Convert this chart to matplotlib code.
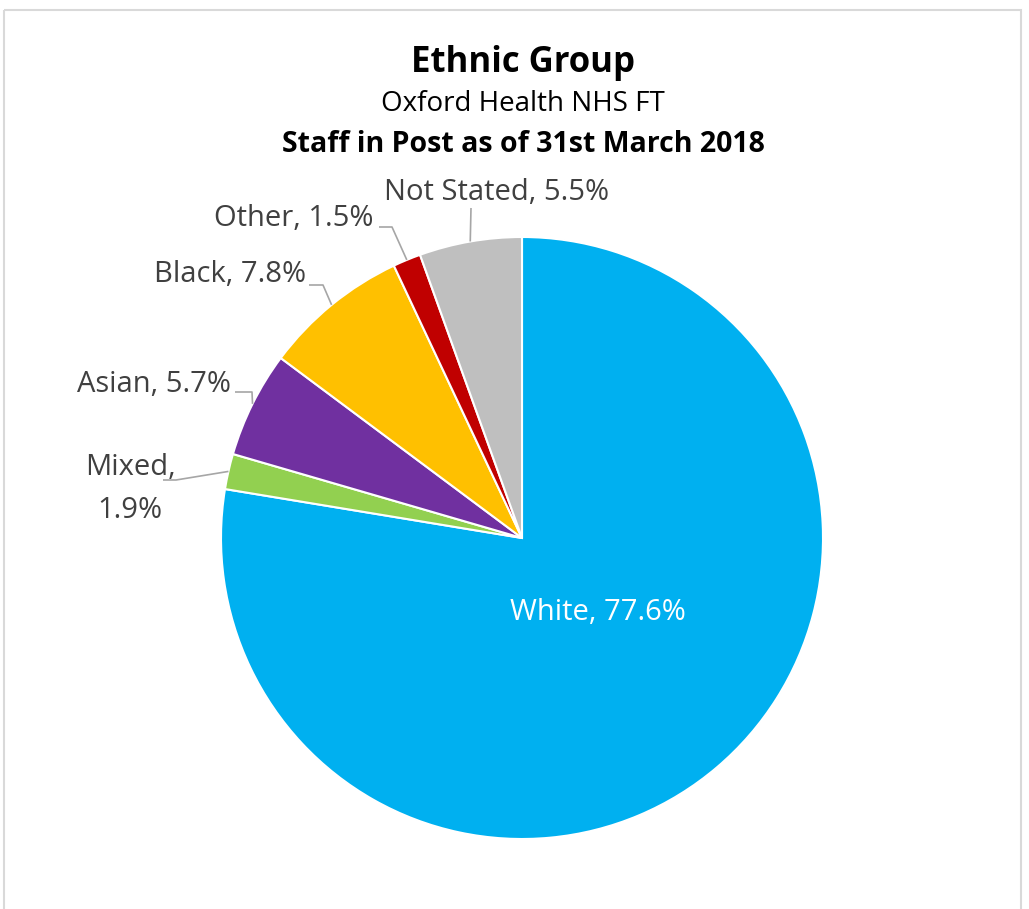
import numpy as np
import matplotlib.pyplot as plt
from matplotlib.patches import Rectangle

# Ethnic group shares, clockwise from 12 o'clock
groups = ['White', 'Mixed', 'Asian', 'Black', 'Other', 'Not Stated']
shares = [77.6, 1.9, 5.7, 7.8, 1.5, 5.5]
colours = ['#00B0F0', '#92D050', '#7030A0', '#FFC000', '#C00000', '#BFBFBF']

title = 'Ethnic Group'
subtitle = 'Oxford Health NHS FT'
subtitle2 = 'Staff in Post as of 31st March 2018'

plt.rcParams['font.family'] = ['Open Sans', 'DejaVu Sans']

W, H = 1029, 909
fig = plt.figure(figsize=(W / 100, H / 100), dpi=100)
ax = fig.add_axes([0, 0, 1, 1])

# axes in pixel units, y pointing down
cx, cy, r = 522, 538, 301
# with the y axis flipped, angle 270 is the top and counterclock runs clockwise on screen
wedges, _ = ax.pie(shares, colors=colours, startangle=270, counterclock=True,
                   center=(cx, cy), radius=r,
                   wedgeprops=dict(edgecolor='white', linewidth=1.5))
ax.set_xlim(0, W)
ax.set_ylim(H, 0)
ax.set_axis_off()

# chart border
ax.add_patch(Rectangle((3.5, 9.5), 1017, 1000, fill=False, edgecolor='#D9D9D9',
                       linewidth=1.5))

# titles
ax.text(523, 63, title, ha='center', va='center', fontsize=25, fontweight='bold', color='black')
ax.text(523, 104, subtitle, ha='center', va='center', fontsize=20, color='black')
ax.text(523, 144, subtitle2, ha='center', va='center', fontsize=20.5, fontweight='bold', color='black')

lab_col = '#404040'
line_col = '#A6A6A6'
fs = 21


def edge_point(i):
    w = wedges[i]
    mid = np.deg2rad((w.theta1 + w.theta2) / 2)
    return cx + r * np.cos(mid), cy + r * np.sin(mid)


# label text: x, y, ha, leader elbow points
labels = {
    'Not Stated': dict(xy=(497, 193), ha='center', path=[(471, 208)]),
    'Other': dict(xy=(373, 219), ha='right', path=[(379, 227), (392, 227)]),
    'Black': dict(xy=(306, 275), ha='right', path=[(309, 285), (323, 285)]),
    'Asian': dict(xy=(231, 384), ha='right', path=[(235, 392), (252, 392)]),
    'Mixed': dict(xy=(130, 489), ha='center', path=[(163, 480), (176, 480)]),
}

for i, (g, v) in enumerate(zip(groups, shares)):
    if g == 'White':
        ax.text(598, 613, f'{g}, {v}%', ha='center', va='center', fontsize=fs, color='white')
        continue
    spec = labels[g]
    txt = f'{g},\n{v}%' if g == 'Mixed' else f'{g}, {v}%'
    ax.text(spec['xy'][0], spec['xy'][1], txt, ha=spec['ha'], va='center', fontsize=fs,
            color=lab_col, linespacing=1.6)
    pts = spec['path'] + [edge_point(i)]
    xs, ys = zip(*pts)
    ax.plot(xs, ys, color=line_col, linewidth=1.2, solid_capstyle='butt')

fig.savefig('out.png', dpi=100)
